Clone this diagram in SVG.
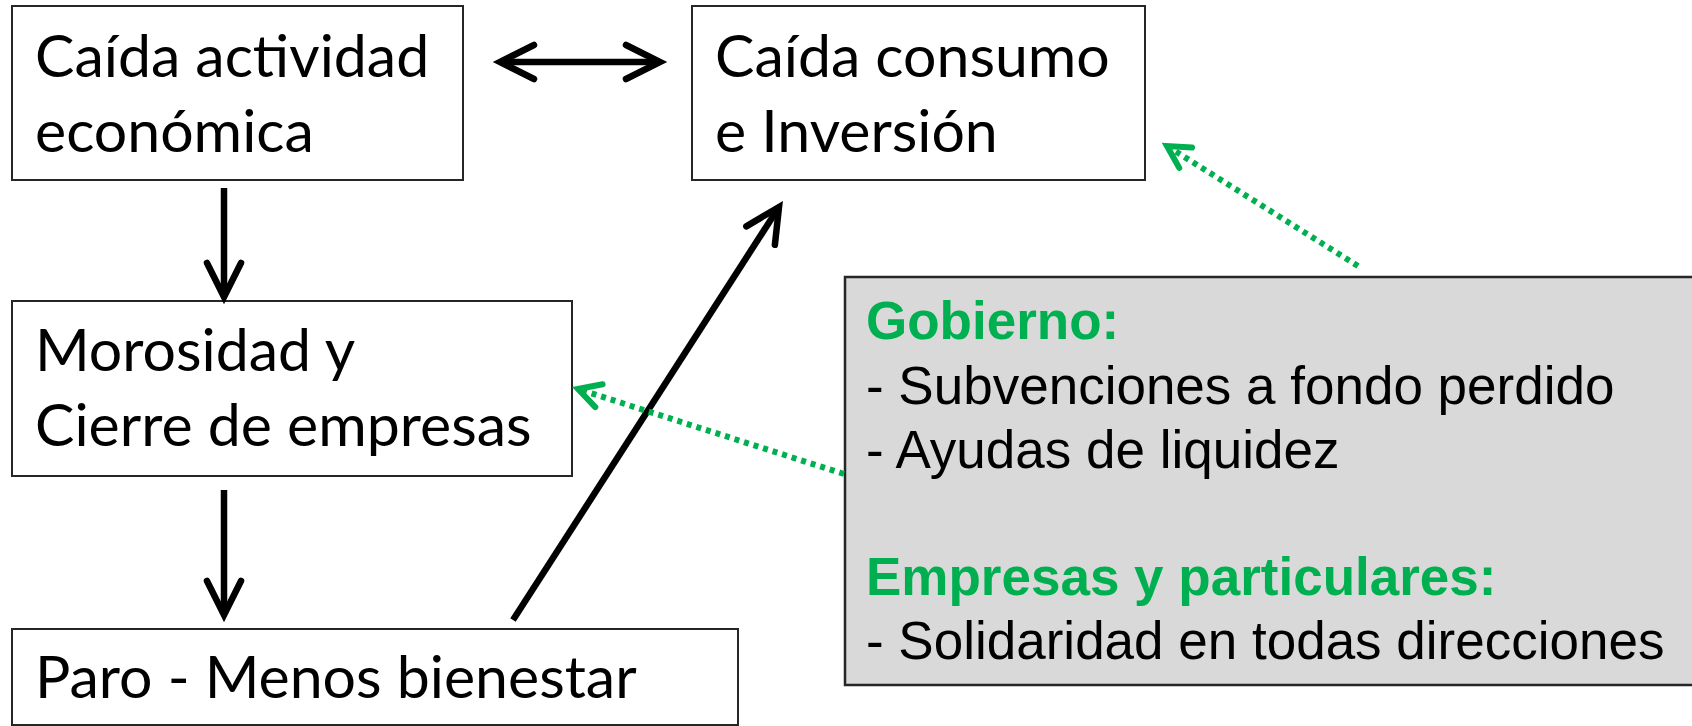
<svg xmlns="http://www.w3.org/2000/svg" width="1692" height="726" viewBox="0 0 1692 726">
<style>
.box{fill:#FFFFFF;stroke:#262626;stroke-width:2}
.gbox{fill:#D9D9D9;stroke:#262626;stroke-width:2.5}
.cal{font-family:Lato,"Open Sans","DejaVu Sans",sans-serif;font-size:59px;fill:#000000}
.ar{font-family:"Liberation Sans",Arial,sans-serif;font-size:53px;fill:#000000}
.arb{font-family:"Liberation Sans",Arial,sans-serif;font-size:53px;font-weight:bold;fill:#00B050}
.blk{stroke:#000000;stroke-width:6.5;fill:none}
.grn{stroke:#00B050;stroke-width:6;fill:none;stroke-dasharray:5 5}
</style>
<defs>
<marker id="chev" markerUnits="userSpaceOnUse" markerWidth="50" markerHeight="50" refX="0" refY="0" orient="auto-start-reverse" overflow="visible">
<path d="M-34,-17 L0,0 L-34,17" fill="none" stroke="#000000" stroke-width="6.5" stroke-linecap="round" stroke-linejoin="miter"/>
</marker>
<marker id="gchev" markerUnits="userSpaceOnUse" markerWidth="40" markerHeight="40" refX="0" refY="0" orient="auto" overflow="visible">
<path d="M-22,-12 L0,0 L-22,12" fill="none" stroke="#00B050" stroke-width="6" stroke-dasharray="none" stroke-linecap="round" stroke-linejoin="miter"/>
</marker>
</defs>
<rect width="1692" height="726" fill="#FFFFFF"/>
<g id="node-caida-actividad">
<rect class="box" x="12" y="6" width="451" height="174"/>
<text class="cal" x="35" y="77">Caída actividad</text>
<text class="cal" x="35" y="152">económica</text>
</g>
<g id="node-caida-consumo">
<rect class="box" x="692" y="6" width="453" height="174"/>
<text class="cal" x="715" y="77">Caída consumo</text>
<text class="cal" x="715" y="152">e Inversión</text>
</g>
<g id="node-morosidad">
<rect class="box" x="12" y="301" width="560" height="175"/>
<text class="cal" x="35" y="371">Morosidad y</text>
<text class="cal" x="35" y="446">Cierre de empresas</text>
</g>
<g id="node-paro">
<rect class="box" x="12" y="629" width="726" height="96"/>
<text class="cal" x="35" y="698">Paro - Menos bienestar</text>
</g>
<g id="node-medidas">
<rect class="gbox" x="845" y="277" width="860" height="408"/>
<text class="arb" x="866" y="339">Gobierno:</text>
<text class="ar" x="866" y="404">- Subvenciones a fondo perdido</text>
<text class="ar" x="866" y="468">- Ayudas de liquidez</text>
<text class="arb" x="866" y="595">Empresas y particulares:</text>
<text class="ar" x="866" y="659">- Solidaridad en todas direcciones</text>
</g>
<g id="connectors">
<line class="blk" x1="500" y1="62" x2="660" y2="62" marker-start="url(#chev)" marker-end="url(#chev)"/>
<line class="blk" x1="224" y1="188" x2="224" y2="297" marker-end="url(#chev)"/>
<line class="blk" x1="224" y1="490" x2="224" y2="615" marker-end="url(#chev)"/>
<line class="blk" x1="513" y1="620" x2="779" y2="207" marker-end="url(#chev)"/>
<line class="grn" x1="1358" y1="266" x2="1167" y2="146" marker-end="url(#gchev)"/>
<line class="grn" x1="844" y1="474" x2="578" y2="389" marker-end="url(#gchev)"/>
</g>
</svg>
